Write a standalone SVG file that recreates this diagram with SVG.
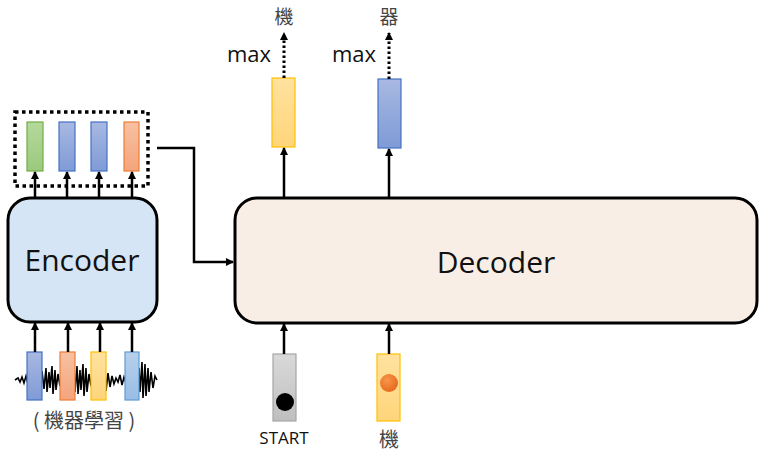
<svg xmlns="http://www.w3.org/2000/svg" width="762" height="454" viewBox="0 0 762 454">
<defs>
<style>
.lbl{font-family:"Open Sans","Liberation Sans","Noto Sans CJK TC",sans-serif;fill:#111}
.cjk{font-family:"Noto Sans CJK TC","Noto Sans CJK SC",sans-serif;fill:#444}
.ar{stroke:#000;stroke-width:2.5;fill:none;marker-end:url(#ah)}
.dt{stroke:#000;stroke-width:3;stroke-dasharray:2.5 2.5;fill:none;marker-end:url(#ah)}
.vg{fill:url(#gG);stroke:#70ad47;stroke-width:1.2}
.vb{fill:url(#gB);stroke:#4472c4;stroke-width:1.2}
.vo{fill:url(#gO);stroke:#ed7d31;stroke-width:1.2}
.vy{fill:url(#gY);stroke:#ffc000;stroke-width:1.2}
.vl{fill:url(#gL);stroke:#5b9bd5;stroke-width:1.2}
.vs{fill:url(#gS);stroke:#a6a6a6;stroke-width:1.2}
</style>
<marker id="ah" markerWidth="8" markerHeight="8" refX="7" refY="4" orient="auto" markerUnits="userSpaceOnUse"><path d="M0,0 L8,4 L0,8 Z" fill="#000"/></marker>
<linearGradient id="gG" x1="0" y1="0" x2="0" y2="1"><stop offset="0" stop-color="#b5d99c"/><stop offset="1" stop-color="#9bc97e"/></linearGradient>
<linearGradient id="gB" x1="0" y1="0" x2="0" y2="1"><stop offset="0" stop-color="#a8b8e2"/><stop offset="1" stop-color="#7f9bd6"/></linearGradient>
<linearGradient id="gO" x1="0" y1="0" x2="0" y2="1"><stop offset="0" stop-color="#f7c1a3"/><stop offset="1" stop-color="#f4a47c"/></linearGradient>
<linearGradient id="gY" x1="0" y1="0" x2="0" y2="1"><stop offset="0" stop-color="#ffe29f"/><stop offset="1" stop-color="#ffd57a"/></linearGradient>
<linearGradient id="gL" x1="0" y1="0" x2="0" y2="1"><stop offset="0" stop-color="#b7d0ec"/><stop offset="1" stop-color="#98bde6"/></linearGradient>
<linearGradient id="gS" x1="0" y1="0" x2="0" y2="1"><stop offset="0" stop-color="#d9d9d9"/><stop offset="1" stop-color="#bfbfbf"/></linearGradient>
<radialGradient id="gOr" cx="0.4" cy="0.35" r="0.7"><stop offset="0" stop-color="#f7964a"/><stop offset="1" stop-color="#e5671c"/></radialGradient>
</defs>

<g id="waveform">
<path d="M15,380 L18,378 L20,382 L22,377 L24,383 L26,376 L28,384 L30,378 L32,382 L34,373 L36,387 L38,374 L40,386 L42,371 L44,389 L46,368 L47,392 L49,372 L50,388 L52,366 L53,394 L55,370 L56,390 L58,374 L60,386 L62,378 L64,382 L66,376 L68,384 L70,372 L72,388 L74,368 L75,392 L77,366 L78,394 L80,370 L81,390 L83,364 L84,396 L86,368 L87,392 L89,374 L91,386 L93,377 L95,383 L97,375 L99,385 L101,372 L103,388 L105,369 L106,391 L108,373 L110,387 L112,376 L114,384 L116,378 L118,382 L120,375 L122,385 L124,377 L126,383 L128,374 L130,386 L132,371 L134,389 L136,365 L137,395 L139,368 L140,392 L142,362 L143,398 L145,364 L146,396 L148,368 L149,392 L151,372 L153,388 L155,376 L157,380" stroke="#000" stroke-width="1.6" fill="none"/>
</g>

<g id="encoder">
<rect x="8" y="198" width="149" height="124" rx="22" fill="#d5e5f5" stroke="#000" stroke-width="3"/>
<text class="lbl" x="82" y="271" font-size="30" text-anchor="middle">Encoder</text>
</g>

<g id="enc-inputs">
<rect class="vb" x="27" y="352" width="15" height="48"/>
<rect class="vo" x="60" y="352" width="15" height="48"/>
<rect class="vy" x="91" y="352" width="15" height="48"/>
<rect class="vl" x="125" y="352" width="14" height="48"/>
<text class="cjk" x="84" y="428" font-size="20" text-anchor="middle">( 機器學習 )</text>
</g>

<g id="enc-outputs">
<rect x="15" y="112" width="133" height="74" fill="none" stroke="#000" stroke-width="3.5" stroke-dasharray="3.5 3.5"/>
<rect class="vg" x="27" y="122" width="16" height="49"/>
<rect class="vb" x="59" y="122" width="16" height="49"/>
<rect class="vb" x="91" y="122" width="16" height="49"/>
<rect class="vo" x="124" y="122" width="15" height="49"/>
</g>

<g id="decoder">
<rect x="235" y="198" width="522" height="125" rx="22" fill="#f9eee6" stroke="#000" stroke-width="3"/>
<text class="lbl" x="496" y="273" font-size="30" text-anchor="middle">Decoder</text>
</g>

<g id="dec-outputs">
<rect class="vy" x="272" y="78" width="23" height="69"/>
<rect class="vb" x="378" y="79" width="23" height="69"/>
<text class="lbl" x="249" y="62" font-size="22" text-anchor="middle">max</text>
<text class="lbl" x="354" y="62" font-size="22" text-anchor="middle">max</text>
<text class="cjk" x="284" y="24" font-size="19" text-anchor="middle">機</text>
<text class="cjk" x="389" y="24" font-size="19" text-anchor="middle">器</text>
</g>

<g id="dec-inputs">
<rect class="vs" x="273" y="354" width="23" height="67"/>
<circle cx="285" cy="402" r="9" fill="#000"/>
<rect class="vy" x="377" y="354" width="23" height="67"/>
<circle cx="389" cy="383" r="9" fill="url(#gOr)"/>
<text class="lbl" x="284" y="444" font-size="17" text-anchor="middle">START</text>
<text class="cjk" x="389" y="447" font-size="20" text-anchor="middle">機</text>
</g>

<g id="connectors">
<path class="ar" d="M35,352 V323"/>
<path class="ar" d="M68,352 V323"/>
<path class="ar" d="M100,352 V323"/>
<path class="ar" d="M132,352 V323"/>
<path class="ar" d="M35,197 V172"/>
<path class="ar" d="M67,197 V172"/>
<path class="ar" d="M99,197 V172"/>
<path class="ar" d="M132,197 V172"/>
<path class="ar" d="M157,148 H194 V262 H233"/>
<path class="ar" d="M284,197 V148"/>
<path class="ar" d="M389,197 V149"/>
<path class="ar" d="M284,354 V324"/>
<path class="ar" d="M389,354 V324"/>
<path class="dt" d="M284,78 V33"/>
<path class="dt" d="M389,79 V33"/>
</g>
</svg>
